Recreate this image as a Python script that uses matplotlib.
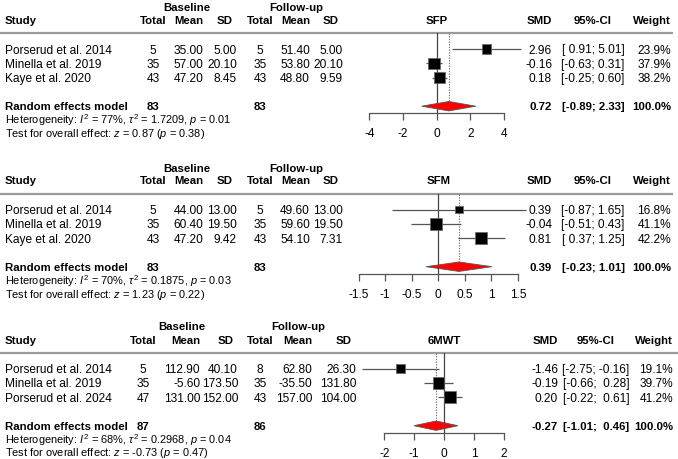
import matplotlib
matplotlib.use("Agg")
import matplotlib.pyplot as plt
from matplotlib.patches import Polygon

plt.rcParams['font.family'] = ['Liberation Sans', 'DejaVu Sans']
plt.rcParams['mathtext.fontset'] = 'custom'
plt.rcParams['mathtext.rm'] = 'Liberation Sans'
plt.rcParams['mathtext.it'] = 'Liberation Sans:italic'
plt.rcParams['mathtext.bf'] = 'Liberation Sans:bold'

# ---- data: SFP ----
sfp_studies = ["Porserud et al. 2014", "Minella et al. 2019", "Kaye et al. 2020"]
sfp_base_n = [5, 35, 43]
sfp_base_mean = [35.00, 57.00, 47.20]
sfp_base_sd = [5.00, 20.10, 8.45]
sfp_fu_n = [5, 35, 43]
sfp_fu_mean = [51.40, 53.80, 48.80]
sfp_fu_sd = [5.00, 20.10, 9.59]
sfp_smd = [2.96, -0.16, 0.18]
sfp_lo = [0.91, -0.63, -0.25]
sfp_hi = [5.01, 0.31, 0.60]
sfp_weight = [23.9, 37.9, 38.2]
sfp_pooled = [0.72, -0.89, 2.33]
sfp_totals = [83, 83]
sfp_het = ["77%", "1.7209", "0.01"]
sfp_test = ["0.87", "0.38"]
sfp_ticks = [-4, -2, 0, 2, 4]

# ---- data: SFM ----
sfm_studies = ["Porserud et al. 2014", "Minella et al. 2019", "Kaye et al. 2020"]
sfm_base_n = [5, 35, 43]
sfm_base_mean = [44.00, 60.40, 47.20]
sfm_base_sd = [13.00, 19.50, 9.42]
sfm_fu_n = [5, 35, 43]
sfm_fu_mean = [49.60, 59.60, 54.10]
sfm_fu_sd = [13.00, 19.50, 7.31]
sfm_smd = [0.39, -0.04, 0.81]
sfm_lo = [-0.87, -0.51, 0.37]
sfm_hi = [1.65, 0.43, 1.25]
sfm_weight = [16.8, 41.1, 42.2]
sfm_pooled = [0.39, -0.23, 1.01]
sfm_totals = [83, 83]
sfm_het = ["70%", "0.1875", "0.03"]
sfm_test = ["1.23", "0.22"]
sfm_ticks = [-1.5, -1, -0.5, 0, 0.5, 1, 1.5]

# ---- data: 6MWT ----
mwt_studies = ["Porserud et al. 2014", "Minella et al. 2019", "Porserud et al. 2024"]
mwt_base_n = [5, 35, 47]
mwt_base_mean = [112.90, -5.60, 131.00]
mwt_base_sd = [40.10, 173.50, 152.00]
mwt_fu_n = [8, 35, 43]
mwt_fu_mean = [62.80, -35.50, 157.00]
mwt_fu_sd = [26.30, 131.80, 104.00]
mwt_smd = [-1.46, -0.19, 0.20]
mwt_lo = [-2.75, -0.66, -0.22]
mwt_hi = [-0.16, 0.28, 0.61]
mwt_weight = [19.1, 39.7, 41.2]
mwt_pooled = [-0.27, -1.01, 0.46]
mwt_totals = [87, 86]
mwt_het = ["68%", "0.2968", "0.04"]
mwt_test = ["-0.73", "0.47"]
mwt_ticks = [-2, -1, 0, 1, 2]

W, H = 678, 459
ROW0, STEP = 49, 14.3
FS = 8.6
FS_B = 8.2
FS_SMALL = 7.9
VA = "center_baseline"

panels = [
    dict(label="SFP", studies=sfp_studies, bn=sfp_base_n, bm=sfp_base_mean, bs=sfp_base_sd,
         fn=sfp_fu_n, fm=sfp_fu_mean, fs=sfp_fu_sd, smd=sfp_smd, lo=sfp_lo, hi=sfp_hi,
         w=sfp_weight, pooled=sfp_pooled, totals=sfp_totals, het=sfp_het, test=sfp_test,
         ticks=sfp_ticks, off=0,
         fx=(369.3, 504.0), cols=(153, 203, 237, 260, 310, 343, 552, 593, 671),
         grp=(187, 296), line_end=673),
    dict(label="SFM", studies=sfm_studies, bn=sfm_base_n, bm=sfm_base_mean, bs=sfm_base_sd,
         fn=sfm_fu_n, fm=sfm_fu_mean, fs=sfm_fu_sd, smd=sfm_smd, lo=sfm_lo, hi=sfm_hi,
         w=sfm_weight, pooled=sfm_pooled, totals=sfm_totals, het=sfm_het, test=sfm_test,
         ticks=sfm_ticks, off=160.5,
         fx=(358.5, 518.0), cols=(153, 203, 237, 260, 310, 343, 552, 593, 671),
         grp=(187, 296), line_end=673),
    dict(label="6MWT", studies=mwt_studies, bn=mwt_base_n, bm=mwt_base_mean, bs=mwt_base_sd,
         fn=mwt_fu_n, fm=mwt_fu_mean, fs=mwt_fu_sd, smd=mwt_smd, lo=mwt_lo, hi=mwt_hi,
         w=mwt_weight, pooled=mwt_pooled, totals=mwt_totals, het=mwt_het, test=mwt_test,
         ticks=mwt_ticks, off=319.5,
         fx=(384.3, 504.0), cols=(143, 200, 238, 260, 312, 356, 558, 596, 673),
         grp=(182, 298), line_end=678),
]


def fmt_ci(lo, hi):
    los = [f"{v:.2f}" for v in lo]
    his = [f"{v:.2f}" for v in hi]
    wl = max(len(s) for s in los)
    wh = max(len(s) for s in his)
    return [f"[{a:>{wl}}; {b:>{wh}}]" for a, b in zip(los, his)]


fig = plt.figure(figsize=(W / 100, H / 100), dpi=100)
tax = fig.add_axes([0, 0, 1, 1])
tax.set_xlim(0, W)
tax.set_ylim(H, 0)
tax.axis("off")

for p in panels:
    off = p["off"]

    def ypx(r, off=off):
        return off + ROW0 + r * STEP

    c = p["cols"]
    head_y = off + 20
    # group headers
    tax.text(p["grp"][0], off + 7, "Baseline", ha="center", va=VA, fontsize=FS_B, fontweight="bold")
    tax.text(p["grp"][1], off + 7, "Follow-up", ha="center", va=VA, fontsize=FS_B, fontweight="bold")
    # column headers
    tax.text(5, head_y, "Study", ha="left", va=VA, fontsize=FS_B, fontweight="bold")
    hdrs = [("Total", "center"), ("Mean", "right"), ("SD", "right")] * 2
    for x, (t, ha) in zip(c[:6], hdrs):
        tax.text(x - (4 if t == "SD" else 0), head_y, t, ha=ha, va=VA, fontsize=FS_B, fontweight="bold")
    tax.text(c[6], head_y, "SMD", ha="right", va=VA, fontsize=FS_B, fontweight="bold")
    tax.text(c[7], head_y, "95%-CI", ha="center", va=VA, fontsize=FS_B, fontweight="bold")
    tax.text(c[8], head_y, "Weight", ha="right", va=VA, fontsize=FS_B, fontweight="bold")
    tax.plot([0, p["line_end"]], [ypx(-1.1)] * 2, color="#9a9a9a", lw=1.6, solid_capstyle="butt")

    cis = fmt_ci(p["lo"] + [p["pooled"][1]], p["hi"] + [p["pooled"][2]])
    for i, s in enumerate(p["studies"]):
        y = ypx(i)
        tax.text(5, y, s, ha="left", va=VA, fontsize=FS)
        vals = [str(p["bn"][i]), f"{p['bm'][i]:.2f}", f"{p['bs'][i]:.2f}",
                str(p["fn"][i]), f"{p['fm'][i]:.2f}", f"{p['fs'][i]:.2f}"]
        for x, v, (_, ha) in zip(c[:6], vals, hdrs):
            tax.text(x, y, v, ha=ha, va=VA, fontsize=FS)
        tax.text(c[6], y, f"{p['smd'][i]:.2f}", ha="right", va=VA, fontsize=FS)
        tax.text(c[7], y, cis[i], ha="center", va=VA, fontsize=FS)
        tax.text(c[8], y, f"{p['w'][i]:.1f}%", ha="right", va=VA, fontsize=FS)

    ys = ypx(4)
    tax.text(5, ys, "Random effects model", ha="left", va=VA, fontsize=FS_B, fontweight="bold")
    tax.text(c[0], ys, str(p["totals"][0]), ha="center", va=VA, fontsize=FS_B, fontweight="bold")
    tax.text(c[3], ys, str(p["totals"][1]), ha="center", va=VA, fontsize=FS_B, fontweight="bold")
    tax.text(c[6], ys, f"{p['pooled'][0]:.2f}", ha="right", va=VA, fontsize=FS_B, fontweight="bold")
    tax.text(c[7], ys, cis[-1], ha="center", va=VA, fontsize=FS_B, fontweight="bold")
    tax.text(c[8], ys, "100.0%", ha="right", va=VA, fontsize=FS_B, fontweight="bold")
    i2, t2, pv = p["het"]
    tax.text(5, off + 118.5, rf"Heterogeneity: $I^2$ = {i2}, $\tau^2$ = {t2}, $p$ = {pv}",
             ha="left", va=VA, fontsize=FS_SMALL)
    zv, pz = p["test"]
    tax.text(5, off + 132, rf"Test for overall effect: $z$ = {zv} ($p$ = {pz})",
             ha="left", va=VA, fontsize=FS_SMALL)

    # forest axes
    r_top, r_bot = -1.1, 4.5
    x0, x1 = p["fx"]
    y0, y1 = ypx(r_top), ypx(r_bot)
    ax = fig.add_axes([x0 / W, 1 - y1 / H, (x1 - x0) / W, (y1 - y0) / H])
    ax.set_facecolor("none")
    ax.set_xlim(p["ticks"][0], p["ticks"][-1])
    ax.set_ylim(r_bot, r_top)
    for sp in ["left", "right", "top"]:
        ax.spines[sp].set_visible(False)
    ax.spines["bottom"].set_color("#555555")
    ax.spines["bottom"].set_linewidth(0.9)
    ax.set_yticks([])
    ax.set_xticks(p["ticks"])
    ax.set_xticklabels([f"{t:g}" for t in p["ticks"]], fontsize=FS)
    ax.tick_params(axis="x", direction="out", length=4.8, width=0.9, color="#555555", pad=6)
    tax.text((x0 + x1) / 2, head_y, p["label"], ha="center", va=VA, fontsize=FS_B, fontweight="bold")

    rows = list(range(len(p["studies"])))
    ax.axvline(0, color="#444444", lw=0.9, zorder=1)
    dh = 0.33
    ax.plot([p["pooled"][0]] * 2, [r_top, 4 - dh], color="#777777", lw=0.8, ls=(0, (1.2, 1.2)), zorder=1)
    ax.hlines(rows, p["lo"], p["hi"], color="#555555", lw=0.9, zorder=2, clip_on=False)
    sizes = [(1.85 * 0.72) ** 2 * wt for wt in p["w"]]
    ax.scatter(p["smd"], rows, s=sizes, marker="s", color="black", edgecolor="#666666",
               linewidths=0.5, zorder=3, clip_on=False)
    est, lo, hi = p["pooled"]
    ax.add_patch(Polygon([(lo, 4), (est, 4 - dh), (hi, 4), (est, 4 + dh)], closed=True,
                         facecolor="red", edgecolor="#555555", lw=0.6, zorder=3, clip_on=False))

fig.savefig("out.png", dpi=100)
